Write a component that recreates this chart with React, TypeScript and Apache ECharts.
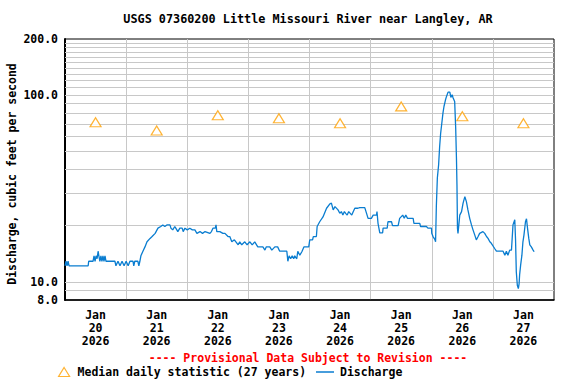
import React, { useEffect, useRef } from "react";
import * as echarts from "echarts";

const TITLE = "USGS 07360200 Little Missouri River near Langley, AR";
const Y_NAME = "Discharge, cubic feet per second";
const PROVISIONAL = "---- Provisional Data Subject to Revision ----";
const MEDIAN_NAME = "Median daily statistic (27 years)";
const DISCHARGE_NAME = "Discharge";

const MONTH = "Jan";
const YEAR = "2026";
const DAY_LABELS = ["20", "21", "22", "23", "24", "25", "26", "27"];
const DAY_CENTERS = [12, 36, 60, 84, 108, 132, 156, 180]; // hours since Jan 20 00:00

const Y_TICKS = [8, 10, 100, 200];
const Y_GRID = [9, 10, 20, 30, 40, 50, 60, 70, 80, 90, 100, 110, 120, 130, 140, 150, 160, 170, 180, 190];

const MEDIAN = [71.6, 64.7, 78.1, 75.2, 70.7, 87.1, 77.1, 70.7];

// [hours since Jan 20 00:00, cfs]
const DISCHARGE: [number, number][] = [
  [0, 12.2], [0.4, 12.9], [0.8, 12.2], [1.2, 12.9], [1.6, 12.2], [9.1, 12.2], [9.3, 12.9],
  [11.0, 12.9], [11.4, 13.8], [11.8, 12.9], [12.2, 13.8], [12.6, 13.3], [13.0, 14.6], [13.3, 13.8],
  [13.7, 12.9], [14.1, 13.8], [14.5, 12.9], [14.9, 13.8], [15.3, 12.9], [15.7, 13.8], [16.1, 12.9],
  [19.6, 12.9], [20.0, 12.2], [20.8, 12.9], [21.6, 12.2], [22.4, 12.9], [23.2, 12.2], [24.0, 12.9],
  [24.8, 12.2], [25.5, 12.9], [26.7, 12.9], [27.0, 12.2], [27.4, 12.9], [28.6, 12.9], [29.0, 12.2],
  [29.4, 12.9], [29.8, 13.8], [30.6, 14.6], [31.4, 15.4], [32.2, 16.4], [33.4, 17.1], [34.2, 17.5],
  [35.4, 18.2], [36.5, 19.4], [37.6, 19.8], [38.4, 20.2], [39.2, 19.8], [40.0, 20.2], [41.2, 20.2],
  [41.6, 19.4], [42.3, 19.0], [43.1, 19.8], [43.5, 19.4], [44.3, 18.6], [45.1, 19.4], [46.0, 19.4],
  [46.4, 18.6], [47.1, 19.4], [48.0, 19.0], [49.0, 19.4], [50.0, 19.0], [51.0, 19.0], [51.8, 18.2],
  [53.0, 18.6], [54.0, 18.2], [55.0, 18.6], [56.9, 18.2], [57.5, 18.6], [58.1, 19.4], [59.0, 19.4],
  [59.3, 20.2], [59.6, 18.6], [60.8, 18.6], [62.0, 18.2], [62.8, 18.2], [64.0, 17.5], [64.7, 17.5],
  [65.5, 16.4], [66.5, 16.8], [67.1, 16.4], [68.0, 15.8], [68.6, 16.4], [69.4, 15.8], [70.6, 16.4],
  [71.5, 15.8], [72.6, 16.4], [73.5, 15.8], [74.5, 16.4], [75.7, 15.4], [77.7, 15.4], [78.5, 14.8],
  [79.0, 15.4], [80.4, 15.4], [81.2, 14.8], [82.4, 15.4], [83.5, 15.4], [84.3, 14.6], [87.1, 14.6],
  [87.5, 12.9], [88.0, 13.8], [88.6, 13.3], [89.2, 13.8], [89.8, 13.3], [90.2, 13.8], [91.0, 13.3],
  [91.4, 14.6], [92.2, 13.9], [93.0, 14.5], [93.8, 15.4], [95.7, 15.4], [96.1, 16.8], [97.2, 16.8],
  [97.5, 17.5], [98.7, 17.5], [99.0, 19.8], [100.0, 21.0], [101.3, 22.3], [102.7, 24.8], [104.0, 26.2],
  [104.6, 26.4], [105.3, 24.3], [106.0, 25.3], [107.2, 24.3], [107.9, 23.3], [108.5, 23.8], [109.1, 22.8],
  [109.7, 23.8], [110.2, 23.3], [110.8, 22.8], [111.4, 23.8], [112.0, 23.3], [112.6, 22.8], [113.2, 23.8],
  [113.8, 24.8], [115.0, 24.8], [115.7, 25.0], [117.7, 25.0], [118.4, 23.3], [119.0, 21.9], [120.3, 21.9],
  [121.0, 22.8], [122.3, 22.8], [122.5, 23.8], [122.9, 20.6], [123.6, 18.3], [124.7, 18.3], [124.9, 19.4],
  [126.5, 19.4], [126.8, 21.0], [128.2, 21.0], [128.6, 20.0], [130.8, 20.0], [131.4, 21.9], [132.6, 22.8],
  [133.2, 21.9], [133.8, 22.8], [134.5, 21.9], [136.7, 21.9], [137.0, 20.6], [139.3, 20.6], [139.6, 19.8],
  [141.9, 19.8], [142.5, 19.4], [143.9, 19.4], [144.0, 18.2], [144.5, 17.5], [145.2, 16.9], [145.5, 16.4],
  [145.8, 25.3], [146.2, 36.0], [146.7, 42.4], [147.1, 53.1], [147.5, 62.7], [147.8, 68.0], [148.4, 80.2],
  [148.8, 87.0], [149.4, 94.5], [149.8, 98.5], [150.4, 103.9], [151.1, 103.9], [151.5, 97.3], [152.0, 100.5],
  [152.4, 96.6], [153.0, 92.5], [153.4, 66.6], [153.7, 46.0], [153.9, 33.1], [154.1, 19.4], [154.3, 18.2],
  [155.0, 22.8], [155.7, 23.8], [156.3, 26.4], [157.0, 28.6], [157.6, 26.9], [158.2, 24.3], [158.9, 21.9],
  [159.6, 20.2], [160.2, 19.0], [160.9, 17.8], [161.5, 16.8], [162.2, 17.5], [162.8, 18.2], [164.1, 18.6],
  [164.8, 18.2], [165.5, 17.5], [166.1, 17.1], [166.8, 16.4], [167.4, 16.1], [168.7, 15.1], [169.4, 14.6],
  [172.0, 14.6], [172.7, 13.9], [173.3, 14.6], [173.9, 13.9], [174.6, 14.8], [175.3, 14.8], [175.5, 16.4],
  [175.9, 20.2], [176.6, 21.5], [176.9, 16.8], [177.2, 11.3], [177.6, 9.6], [178.0, 9.2], [178.3, 9.8],
  [178.5, 10.9], [178.9, 12.3], [179.4, 13.9], [179.8, 16.4], [180.2, 17.8], [180.8, 21.0], [181.2, 21.8],
  [181.6, 19.4], [182.1, 17.1], [182.5, 15.8], [183.1, 15.4], [183.8, 14.8], [184.2, 14.5],
];

const FONT = '"DejaVu Sans Mono", "Liberation Mono", monospace';
const GRID_COLOR = "#c8c8c8";
const LINE_COLOR = "#0a7dd0";
const MEDIAN_COLOR = "#ffa000";

export default function App() {
  const ref = useRef<HTMLDivElement>(null);

  useEffect(() => {
    if (!ref.current) return;
    const chart = echarts.init(ref.current, undefined, { renderer: "svg" });
    const textStyle = { fontFamily: FONT, fontWeight: "bold" as const, fontSize: 11.5, color: "#000" };
    chart.setOption({
      animation: false,
      backgroundColor: "#fff",
      grid: {
        left: 65, top: 39, width: 489, height: 261,
        show: true, borderColor: "#000", borderWidth: 1, backgroundColor: "transparent",
      },
      xAxis: {
        type: "value", min: 0, max: 192, interval: 24,
        axisLine: { show: true, onZero: false, lineStyle: { color: "#000", width: 1.5 } },
        axisTick: { show: false },
        splitLine: { show: true, showMinLine: false, showMaxLine: false, lineStyle: { color: GRID_COLOR, width: 1 } },
        axisLabel: {
          customValues: DAY_CENTERS,
          formatter: (v: number) => {
            const i = DAY_CENTERS.indexOf(v);
            return `${MONTH}\n${DAY_LABELS[i] ?? ""}\n${YEAR}`;
          },
          ...textStyle, lineHeight: 13, margin: 8,
        },
      },
      yAxis: {
        type: "log", logBase: 10, min: 8, max: 200,
        axisLine: { show: true, lineStyle: { color: "#000", width: 2 } },
        axisTick: { show: false },
        splitLine: { show: false },
        minorSplitLine: { show: false },
        axisLabel: {
          customValues: Y_TICKS,
          formatter: (v: number) => Number(v).toFixed(1),
          ...textStyle, margin: 7,
        },
      },
      legend: [
        {
          data: [{ name: MEDIAN_NAME, icon: "triangle", itemStyle: { color: "#fff", borderColor: MEDIAN_COLOR, borderWidth: 1.2 } }],
          left: 58, top: 366, padding: 0, itemWidth: 11, itemHeight: 9, selectedMode: false,
          textStyle: { ...textStyle, padding: [0, 0, 0, 3] },
        },
        {
          data: [{ name: DISCHARGE_NAME, icon: "rect", itemStyle: { color: LINE_COLOR, borderWidth: 0 } }],
          left: 316, top: 366, padding: 0, itemWidth: 18, itemHeight: 1.5, selectedMode: false,
          textStyle: { ...textStyle, padding: [0, 0, 0, 1] },
        },
      ],
      graphic: [
        {
          type: "text", x: 308, y: 19,
          style: { text: TITLE, fill: "#000", font: `bold 11.8px ${FONT}`, align: "center", verticalAlign: "middle", textAlign: "center", textVerticalAlign: "middle" },
        },
        {
          type: "text", x: 12, y: 174, rotation: Math.PI / 2,
          style: { text: Y_NAME, fill: "#000", font: `bold 11.5px ${FONT}`, align: "center", verticalAlign: "middle", textAlign: "center", textVerticalAlign: "middle" },
        },
        {
          type: "text", x: 308, y: 358,
          style: { text: PROVISIONAL, fill: "#ff0000", font: `bold 11.5px ${FONT}`, align: "center", verticalAlign: "middle", textAlign: "center", textVerticalAlign: "middle" },
        },
      ],
      series: [
        {
          type: "line", data: [], silent: true, z: 1,
          markLine: {
            silent: true, symbol: "none", z: 1,
            label: { show: false },
            lineStyle: { color: GRID_COLOR, width: 1, type: "solid" },
            data: Y_GRID.map((v) => ({ yAxis: v })),
          },
        },
        {
          type: "line", name: DISCHARGE_NAME, data: DISCHARGE, symbol: "none", showSymbol: false, z: 3,
          lineStyle: { color: LINE_COLOR, width: 1.3 },
          itemStyle: { color: LINE_COLOR },
        },
        {
          type: "scatter", name: MEDIAN_NAME, z: 4,
          data: MEDIAN.map((v, i) => [DAY_CENTERS[i], v]),
          symbol: "triangle", symbolSize: [11, 9],
          itemStyle: { color: "#fff", borderColor: MEDIAN_COLOR, borderWidth: 1.2 },
        },
      ],
    });
    return () => chart.dispose();
  }, []);

  return (
    <div
      ref={ref}
      style={{ position: "absolute", left: 0, top: 0, width: 576, height: 384, background: "#fff" }}
    />
  );
}
